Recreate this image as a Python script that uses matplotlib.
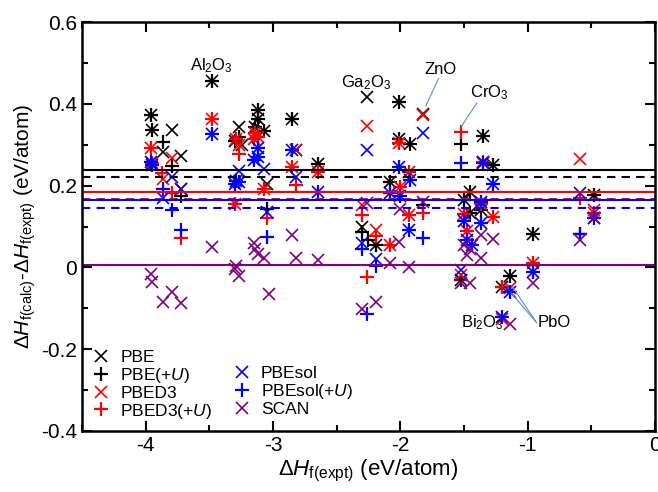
import matplotlib
matplotlib.use('Agg')
import matplotlib.pyplot as plt
from matplotlib.lines import Line2D
from matplotlib.ticker import MultipleLocator

plt.rcParams['font.family'] = ['Liberation Sans', 'DejaVu Sans']
plt.rcParams['mathtext.fontset'] = 'custom'
plt.rcParams['mathtext.rm'] = 'Liberation Sans'
plt.rcParams['mathtext.it'] = 'Liberation Sans:italic'

# asterisks: compounds without U, so the plain and (+U) values coincide
pbe_star_x = [-3.96, -3.95, -3.48, -3.30, -3.12, -3.12, -3.14, -3.07, -2.85, -2.65, -2.01, -2.01, -1.92,
              -2.08, -2.19, -1.35, -1.27, -1.45, -1.50, -1.45, -1.37, -1.52, -1.14, -1.20, -0.96, -0.48]
pbe_star_y = [0.374, 0.337, 0.456, 0.309, 0.384, 0.362, 0.343, 0.333, 0.362, 0.252, 0.405, 0.313, 0.302,
              0.209, 0.054, 0.321, 0.250, 0.184, 0.164, 0.132, 0.140, -0.031, -0.021, -0.047, 0.083, 0.178]
d3_star_x = [-3.96, -3.95, -3.48, -3.29, -3.30, -3.14, -3.12, -3.15, -3.07, -2.85, -2.65, -2.01, -2.00,
             -1.93, -1.93, -2.08, -1.50, -1.48, -1.37, -1.27, -1.35, -0.96, -0.48]
d3_star_y = [0.291, 0.255, 0.364, 0.313, 0.156, 0.330, 0.320, 0.315, 0.193, 0.246, 0.234, 0.305, 0.197,
             0.234, 0.128, 0.056, 0.130, 0.089, 0.155, 0.124, 0.258, 0.010, 0.133]
sol_star_x = [-3.96, -3.95, -3.48, -3.29, -3.30, -3.27, -3.12, -3.12, -3.15, -2.85, -2.65, -2.01, -2.08,
              -2.00, -1.92, -1.93, -1.35, -1.27, -1.37, -1.50, -1.48, -1.44, -1.37, -1.14, -1.20, -0.96, -0.48]
sol_star_y = [0.258, 0.250, 0.327, 0.212, 0.205, 0.210, 0.291, 0.270, 0.262, 0.287, 0.185, 0.246, 0.182,
              0.174, 0.213, 0.091, 0.256, 0.205, 0.160, 0.113, 0.067, 0.054, 0.108, -0.060, -0.122, -0.011, 0.120]

# plain (x) and (+U) (+) values of compounds with U
pbe_x = [-3.86, -3.79, -3.72, -3.27, -3.24, -3.05, -2.82, -2.26, -1.82, -1.35, -2.30]
pbe_y = [0.282, 0.337, 0.273, 0.343, 0.299, 0.205, 0.287, 0.418, 0.376, 0.257, 0.100]
pbeu_x = [-3.86, -3.79, -3.72, -3.27, -3.05, -2.30, -2.25, -1.82, -1.52, -0.59]
pbeu_y = [0.307, 0.247, 0.174, 0.320, 0.144, 0.087, 0.067, 0.152, 0.301, 0.081]
d3_x = [-3.86, -3.79, -3.72, -3.27, -2.82, -2.26, -2.30, -2.19, -1.82, -1.52, -1.14, -1.20, -0.59, -0.48]
d3_y = [0.217, 0.268, 0.193, 0.300, 0.288, 0.346, 0.152, 0.091, 0.374, -0.019, -0.050, -0.125, 0.266, 0.140]
d3u_x = [-3.87, -3.79, -3.72, -3.27, -3.05, -2.82, -2.30, -2.26, -2.19, -1.82, -1.52, -0.59, -1.20]
d3u_y = [0.230, 0.181, 0.072, 0.277, 0.120, 0.201, 0.128, -0.023, 0.077, 0.132, 0.331, 0.169, -0.047]
sol_x = [-3.86, -3.79, -3.72, -3.27, -3.07, -3.05, -2.82, -2.26, -2.30, -2.19, -1.82, -1.52, -0.59]
sol_y = [0.169, 0.221, 0.193, 0.236, 0.242, 0.136, 0.221, 0.288, 0.061, 0.020, 0.329, -0.007, 0.181]
solu_x = [-3.86, -3.79, -3.72, -3.05, -2.30, -2.19, -2.26, -1.82, -1.52, -0.59]
solu_y = [0.193, 0.141, 0.092, 0.075, 0.046, 0.004, -0.113, 0.071, 0.256, 0.083]

scan_x = [-3.96, -3.95, -3.86, -3.79, -3.72, -3.48, -3.30, -3.29, -3.27, -3.15, -3.14, -3.12, -3.07, -3.03,
          -2.85, -2.82, -2.65, -2.26, -2.30, -2.19, -2.08, -2.00, -2.01, -1.93, -1.82, -1.50, -1.48, -1.45,
          -1.37, -1.27, -1.37, -1.52, -1.45, -1.14, -0.96, -0.59, -0.48]
scan_y = [-0.016, -0.036, -0.084, -0.060, -0.088, 0.049, -0.003, 0.003, -0.022, 0.059, 0.046, 0.034, 0.022,
          -0.066, 0.079, 0.022, 0.018, 0.158, -0.102, -0.084, 0.012, 0.144, 0.062, 0.002, 0.160, 0.055, 0.030,
          0.045, 0.079, 0.069, 0.022, -0.037, -0.039, -0.139, -0.037, 0.067, 0.120]

# mean errors (solid: x markers, dashed: +U)
means = [('black', 0.238, '-'), ('black', 0.221, '--'), ('red', 0.184, '-'), ('red', 0.168, '--'),
         ('blue', 0.164, '-'), ('blue', 0.146, '--'), ('purple', 0.006, '-')]

fig = plt.figure(figsize=(6.58, 4.92), dpi=100)
ax = fig.add_axes([0.1246, 0.124, 0.8708, 0.831])

ms, mew = 9, 1.2
h1, = ax.plot(pbe_x + pbe_star_x, pbe_y + pbe_star_y, 'x', color='black', ms=ms, mew=mew, label='PBE')
h2, = ax.plot(pbeu_x + pbe_star_x, pbeu_y + pbe_star_y, '+', color='black', ms=ms + 1, mew=mew + 0.4,
              label='PBE(+$\\it{U}$)')
h3, = ax.plot(d3_x + d3_star_x, d3_y + d3_star_y, 'x', color='red', ms=ms, mew=mew, label='PBED3')
h4, = ax.plot(d3u_x + d3_star_x, d3u_y + d3_star_y, '+', color='red', ms=ms + 1, mew=mew + 0.4,
              label='PBED3(+$\\it{U}$)')
h5, = ax.plot(sol_x + sol_star_x, sol_y + sol_star_y, 'x', color='blue', ms=ms, mew=mew, label='PBEsol')
h6, = ax.plot(solu_x + sol_star_x, solu_y + sol_star_y, '+', color='blue', ms=ms + 1, mew=mew + 0.4,
              label='PBEsol(+$\\it{U}$)')
h7, = ax.plot(scan_x, scan_y, 'x', color='purple', ms=ms, mew=mew, label='SCAN')

for c, v, ls in means:
    ax.axhline(v, color=c, ls=ls, lw=1.5, dashes=(4, 3) if ls == '--' else (None, None))

# labels of outliers
ax.text(-3.48, 0.47, 'Al$_2$O$_3$', ha='center', va='bottom', fontsize=12)
ax.text(-2.27, 0.43, 'Ga$_2$O$_3$', ha='center', va='bottom', fontsize=12)
ax.text(-1.68, 0.465, 'ZnO', ha='center', va='bottom', fontsize=12)
ax.text(-1.30, 0.405, 'CrO$_3$', ha='center', va='bottom', fontsize=12)
ax.text(-1.19, -0.135, 'Bi$_2$O$_3$', ha='right', va='center', fontsize=12)
ax.text(-0.92, -0.135, 'PbO', ha='left', va='center', fontsize=12)
lc = '#5b8fd0'
ax.plot([-1.80, -1.70], [0.395, 0.462], color=lc, lw=0.8)
ax.plot([-1.52, -1.40], [0.345, 0.402], color=lc, lw=0.8)
ax.plot([-1.12, -0.93], [-0.047, -0.135], color=lc, lw=0.8)
ax.plot([-1.13, -0.93], [-0.062, -0.135], color=lc, lw=0.8)

ax.set_xlim(-4.5, 0)
ax.set_ylim(-0.4, 0.6)
ax.xaxis.set_major_locator(MultipleLocator(1))
ax.xaxis.set_minor_locator(MultipleLocator(0.5))
ax.yaxis.set_major_locator(MultipleLocator(0.2))
ax.yaxis.set_minor_locator(MultipleLocator(0.1))
ax.tick_params(which='both', direction='in', top=True, right=True, width=1.5, labelsize=15)
ax.tick_params(which='major', length=7)
ax.tick_params(which='minor', length=4.5)
for s in ax.spines.values():
    s.set_linewidth(1.8)
ax.xaxis.set_major_formatter(plt.FuncFormatter(lambda v, p: '%g' % v))
ax.yaxis.set_major_formatter(plt.FuncFormatter(lambda v, p: '%g' % v))

ax.set_xlabel('$\\Delta\\it{H}_{\\rm f(expt)}$ (eV/atom)', fontsize=16, labelpad=2)
ax.set_ylabel('$\\Delta\\it{H}_{\\rm f(calc)}$-$\\Delta\\it{H}_{\\rm f(expt)}$ (eV/atom)', fontsize=15, labelpad=2)

blank = Line2D([], [], linestyle='none')
ax.legend([h1, h2, h3, h4, blank, h5, h6, h7],
          ['PBE', 'PBE(+$\\it{U}$)', 'PBED3', 'PBED3(+$\\it{U}$)', '', 'PBEsol', 'PBEsol(+$\\it{U}$)', 'SCAN'],
          loc='lower left', ncol=2, frameon=False, fontsize=12.5, handlelength=1.0, handletextpad=0.6,
          columnspacing=1.2, labelspacing=0.05, borderaxespad=0.2)

fig.savefig('out.png', dpi=100)
